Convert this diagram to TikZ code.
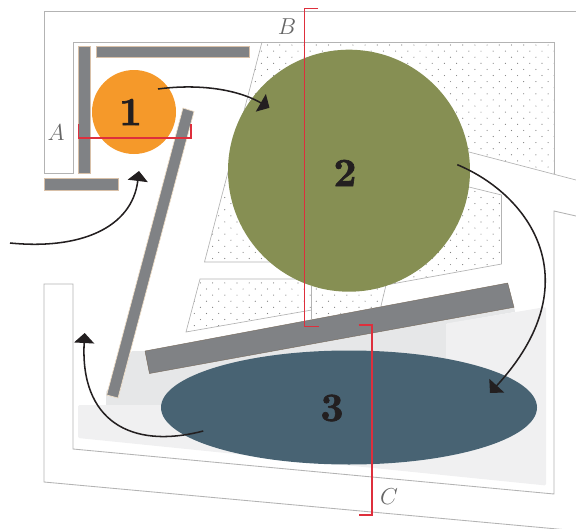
\documentclass[tikz,border=0pt]{standalone}
\usepackage{fontspec}
\newfontfamily\fatface{lmroman10-bold}[Extension=.otf,FakeBold=1.6]
\usetikzlibrary{arrows.meta,shapes.geometric}
\definecolor{wallc}{HTML}{B3B3B3}
\definecolor{beamc}{HTML}{808285}
\definecolor{beamedge}{HTML}{D8C0A8}
\definecolor{creamedge}{HTML}{F0DFC8}
\definecolor{orangec}{HTML}{F5992A}
\definecolor{olivec}{HTML}{868F53}
\definecolor{bluec}{HTML}{486373}
\definecolor{redc}{HTML}{DE2F3C}
\definecolor{lightone}{HTML}{F0F0F1}
\definecolor{lighttwo}{HTML}{E6E7E8}
\definecolor{inkc}{HTML}{231F20}
\tikzset{
  wall/.style={draw=wallc,line width=0.65pt,line join=miter},
  thinwall/.style={draw=wallc,line width=0.5pt},
  beam/.style={fill=beamc,draw=beamedge,line width=0.5pt},
  redline/.style={draw=redc,line width=1pt},
  flow/.style={draw=inkc,line width=1.15pt,-{Triangle[length=7.5pt,width=15pt]}},
  num/.style={text=inkc,font=\fontsize{30}{33}\selectfont\fatface,inner sep=0pt},
  tag/.style={text=black!60,font=\fontsize{17}{19}\selectfont,inner sep=0pt},
  dot/.style={fill=black!50}
}
\begin{document}
\begin{tikzpicture}[x=0.75pt,y=-0.75pt]
\useasboundingbox (0,0) rectangle (576,529);
\clip (0,0) rectangle (576,529);
% light floors
\fill[lighttwo] (106,405) -- (106,392) -- (132,351) -- (149,351) -- (514,306) -- (515,312) -- (446,324) -- (446,405) -- cycle;
\fill[lightone,rounded corners=1pt] (78,405) -- (446,405) -- (446,323.5) -- (546,307) -- (546,485.5) -- (78,438) -- cycle;
% dots
\begin{scope}
\clip (262,42) -- (554,42) -- (554,174) -- (440,145) -- (440,185) -- (469,187) -- (501.5,195) -- (501.5,264) -- (386,285) -- (381,306) -- (311.7,319) -- (311.7,262) -- (204.5,262) -- cycle
      (200,279) -- (186,332) -- (311.7,310) -- (311.7,279) -- cycle;
\foreach \k in {0,...,49}{
  \pgfmathsetmacro{\yy}{45+6.1*\k}
  \pgfmathsetmacro{\xo}{isodd(\k)?6.1:0}
  \foreach \m in {-11,...,20}{
    \fill[dot] ({316.3+12.2*\m+\xo},\yy) circle[radius=0.6];
  }
}
\end{scope}
% walls
\draw[wall] (576,11.7) -- (44,11.7) -- (44,173) -- (73,173) -- (73,42) -- (554,42) -- (554,174);
\draw[thinwall] (469,152) -- (576,180);
\draw[wall] (576,216) -- (554,211) -- (554,494) -- (73,449) -- (73,284) -- (44,284) -- (44,482) -- (590,532);
\draw[thinwall] (262,42) -- (204.5,262) -- (280,262);
\draw[thinwall] (469,187) -- (501.5,195) -- (501.5,264) -- (386,285) -- (381,306);
\draw[thinwall] (300,279) -- (200,279) -- (186,332) -- (311.7,310);
\draw[thinwall] (311.7,286) -- (311.7,319);
% beams
\path[beam] (78.7,46) rectangle (90.7,173);
\path[beam] (96.5,46.3) rectangle (249.5,57.5);
\path[beam] (44.5,178.5) rectangle (118.5,190);
\path[beam,draw=creamedge] (183,108) -- (194,111.5) -- (118,398) -- (106.7,395) -- cycle;
\path[beam,draw=black!45!beamedge,line width=0.3pt] (145,351) -- (507.7,283) -- (514,307.3) -- (149.5,373.5) -- cycle;
% main shapes
\node[circle,fill=orangec,inner sep=0pt,minimum size=63pt] (one) at (134,112) {};
\node[circle,fill=olivec,inner sep=0pt,minimum size=181.5pt] (two) at (349,170.7) {};
\node[ellipse,fill=bluec,inner sep=0pt,minimum width=282pt,minimum height=85.5pt] (three) at (349,407.5) {};
% red section lines
\draw[redline] (78.5,124) -- (78.5,138) -- (191,138) -- (191,124);
\draw[redline] (318,8.5) -- (304.5,8.5) -- (304.5,326.5) -- (318.5,326.5);
\draw[redline] (358.5,325) -- (372,325) -- (372,515) -- (358.5,515);
% labels
\node[num] (lone) at (130.5,112) {1};
\node[num] (ltwo) at (345,173) {2};
\node[num] (lthree) at (332,408) {3};
\node[tag] (la) at (56,133) {$A$};
\node[tag] (lb) at (287,27) {$B$};
\node[tag] (lc) at (389,497) {$C$};
% connectors
\coordinate (s1) at (158,89);
\coordinate (e1) at (269.5,107.8);
\coordinate (s2) at (10,243);
\coordinate (e2) at (139,171);
\coordinate (s3) at (457.3,164.7);
\coordinate (e3) at (490,393);
\coordinate (s4) at (203.3,431);
\coordinate (e4) at (84.7,333);
\draw[flow] (s1) .. controls (195,84) and (235,88) .. (e1);
\draw[flow] (s2) .. controls (80,250) and (132,228) .. (e2);
\draw[flow] (s3) .. controls (530,195) and (592,282) .. (e3);
\draw[flow] (s4) .. controls (130,450) and (80,420) .. (e4);
\end{tikzpicture}
\end{document}
